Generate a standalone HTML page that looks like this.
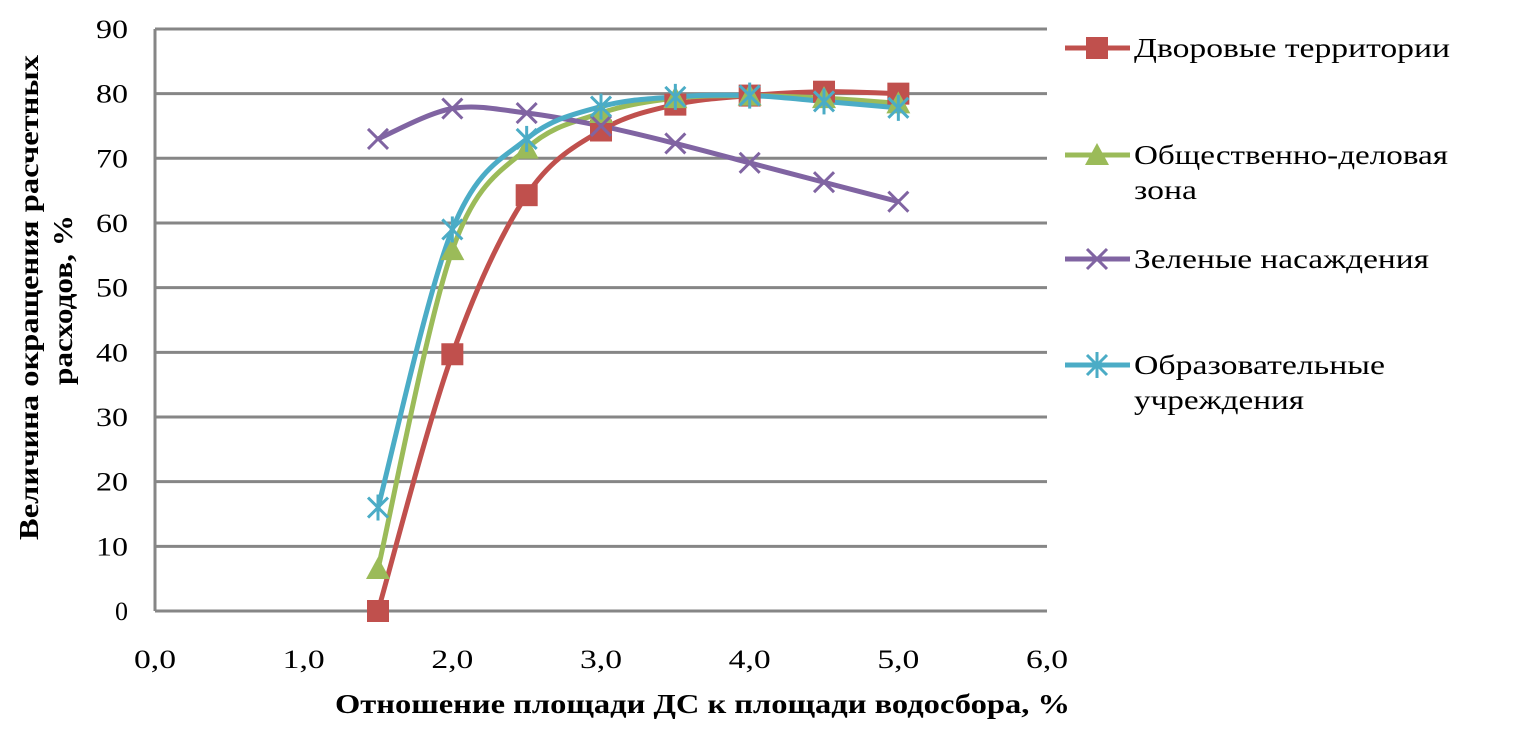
<!DOCTYPE html>
<html><head><meta charset="utf-8"><style>
body{margin:0;background:#fff;width:1514px;height:729px;overflow:hidden}
svg text{font-family:"Liberation Serif","DejaVu Serif",serif}
</style></head><body>
<svg id="s" width="1514" height="729" xmlns="http://www.w3.org/2000/svg"></svg>
<script>
const s=document.getElementById('s');
const X=v=>155+v*148.67, Y=v=>611-v*6.467;
let h='';
for(let i=0;i<=9;i++){h+=`<line x1="155" x2="1047" y1="${Y(i*10)}" y2="${Y(i*10)}" stroke="#868686" stroke-width="3"/>`;
h+=`<text x="128" y="${Y(i*10)+9}" font-size="26" text-anchor="end" ${i?'textLength="32" lengthAdjust="spacingAndGlyphs"':''}>${i*10}</text>`;}
h+=`<line x1="155" x2="155" y1="29" y2="611" stroke="#868686" stroke-width="3"/>`;
for(let i=0;i<=6;i++)h+=`<text x="${X(i)-21}" y="668" font-size="26" textLength="42" lengthAdjust="spacingAndGlyphs">${i},0</text>`;
h+=`<text x="335" y="713" font-size="27" font-weight="bold" textLength="735" lengthAdjust="spacingAndGlyphs">Отношение площади ДС к площади водосбора, %</text>`;
h+=`<text transform="translate(38,540) rotate(-90)" font-size="27" font-weight="bold" textLength="485" lengthAdjust="spacingAndGlyphs">Величина окращения расчетных</text>`;
h+=`<text transform="translate(72,385) rotate(-90)" font-size="27" font-weight="bold" textLength="170" lengthAdjust="spacingAndGlyphs">расходов, %</text>`;
const xs=[1.5,2,2.5,3,3.5,4,4.5,5];
const S=[
 {c:'#c0504d',m:'sq',d:[0,39.7,64.3,74.3,78.3,79.7,80.3,80]},
 {c:'#9bbb59',m:'tri',d:[6.5,55.8,71.5,77,79.3,79.7,79.3,78.5]},
 {c:'#8064a2',m:'x',d:[73,77.7,77,75,72.3,69.3,66.3,63.3]},
 {c:'#4bacc6',m:'star',d:[16,59,73,78,79.5,79.7,78.8,77.8]}];
function path(p){let d=`M${p[0][0]},${p[0][1]}`;for(let i=0;i<p.length-1;i++){const p0=p[Math.max(0,i-1)],p1=p[i],p2=p[i+1],p3=p[Math.min(p.length-1,i+2)];
d+=` C${p1[0]+(p2[0]-p0[0])/6},${p1[1]+(p2[1]-p0[1])/6} ${p2[0]-(p3[0]-p1[0])/6},${p2[1]-(p3[1]-p1[1])/6} ${p2[0]},${p2[1]}`;}return d;}
function mk(m,x,y,c){
 if(m=='sq')return `<rect x="${x-11}" y="${y-11}" width="22" height="22" fill="${c}"/>`;
 if(m=='tri')return `<polygon points="${x},${y-12} ${x+12},${y+10} ${x-12},${y+10}" fill="${c}"/>`;
 let r=`<path d="M${x-10},${y-10}L${x+10},${y+10}M${x-10},${y+10}L${x+10},${y-10}" stroke="${c}" stroke-width="3"/>`;
 if(m=='star')r+=`<path d="M${x},${y-13}V${y+13}" stroke="${c}" stroke-width="3"/>`;
 return r;}
S.forEach(o=>{const p=xs.map((x,i)=>[X(x),Y(o.d[i])]);h+=`<path d="${path(p)}" fill="none" stroke="${o.c}" stroke-width="5"/>`;});
S.forEach(o=>{xs.forEach((x,i)=>h+=mk(o.m,X(x),Y(o.d[i]),o.c));});
const L=[[48,[['Дворовые территории',316]]],[155,[['Общественно-деловая',314],['зона',63]]],[259,[['Зеленые насаждения',295]]],[365,[['Образовательные',251],['учреждения',170]]]];
L.forEach((l,i)=>{const y=l[0],c=S[i].c;h+=`<line x1="1065" x2="1130" y1="${y}" y2="${y}" stroke="${c}" stroke-width="5"/>`+mk(S[i].m,1097,y,c);
l[1].forEach((t,j)=>h+=`<text x="1134" y="${y+9+j*35}" font-size="27" textLength="${t[1]}" lengthAdjust="spacingAndGlyphs">${t[0]}</text>`);});
s.innerHTML=h;
</script></body></html>
